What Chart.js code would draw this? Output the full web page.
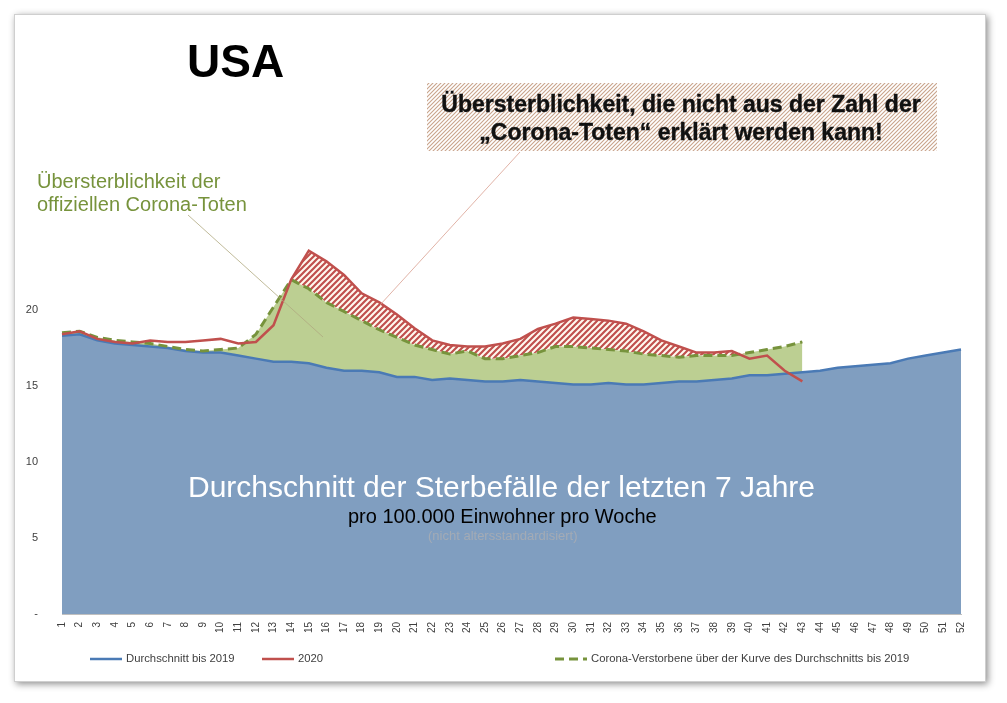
<!DOCTYPE html>
<html>
<head>
<meta charset="utf-8">
<script src="https://cdn.jsdelivr.net/npm/chart.js@4.4.1/dist/chart.umd.min.js"></script>
<style>
  body { margin: 0; background: #fff; }
  #frame { position: absolute; left: 14px; top: 14px; width: 970px; height: 666px; border: 1px solid #cfcfcf; background: #fff; box-shadow: 2px 2px 7px rgba(0,0,0,0.45); }
  #myChart { position: absolute; left: 0; top: 0; }
</style>
</head>
<body>
<div id="frame"></div>
<canvas id="myChart" width="1007" height="703"></canvas>
<script>
const weeks = ['1','2','3','4','5','6','7','8','9','10','11','12','13','14','15','16','17','18','19','20',
  '21','22','23','24','25','26','27','28','29','30','31','32','33','34','35','36','37','38','39','40',
  '41','42','43','44','45','46','47','48','49','50','51','52'];

// Durchschnitt bis 2019 (Sterbefälle pro 100.000 Einwohner pro Woche)
const avg2019 = [18.3, 18.4, 18.0, 17.8, 17.7, 17.6, 17.5, 17.3, 17.2, 17.2,
  17.0, 16.8, 16.6, 16.6, 16.5, 16.2, 16.0, 16.0, 15.9, 15.6,
  15.6, 15.4, 15.5, 15.4, 15.3, 15.3, 15.4, 15.3, 15.2, 15.1,
  15.1, 15.2, 15.1, 15.1, 15.2, 15.3, 15.3, 15.4, 15.5, 15.7,
  15.7, 15.8, 15.9, 16.0, 16.2, 16.3, 16.4, 16.5, 16.8, 17.0,
  17.2, 17.4];

// 2020
const deaths2020 = [18.4, 18.6, 18.1, 17.9, 17.8, 18.0, 17.9, 17.9, 18.0, 18.1,
  17.8, 17.9, 19.0, 22.0, 23.9, 23.2, 22.3, 21.1, 20.5, 19.7,
  18.8, 18.0, 17.7, 17.6, 17.6, 17.8, 18.1, 18.75, 19.1, 19.5,
  19.4, 19.3, 19.1, 18.6, 18.0, 17.6, 17.2, 17.2, 17.3, 16.8,
  17.0, 16.0, 15.3];

// Corona-Verstorbene über der Kurve des Durchschnitts bis 2019
const coronaAbove = [18.5, 18.6, 18.2, 18.0, 17.9, 17.8, 17.6, 17.4, 17.3, 17.4,
  17.5, 18.4, 20.2, 22.0, 21.4, 20.5, 19.9, 19.3, 18.7, 18.2,
  17.7, 17.4, 17.1, 17.3, 16.8, 16.8, 17.0, 17.2, 17.6, 17.6,
  17.5, 17.4, 17.3, 17.1, 17.0, 16.9, 17.0, 17.0, 17.0, 17.2,
  17.4, 17.6, 17.9];

const yTicks = [0, 5, 10, 15, 20];

const canvas = document.getElementById('myChart');
const g = canvas.getContext('2d');

function stripes(size, bg, fg, w) {
  const c = document.createElement('canvas');
  c.width = size; c.height = size;
  const t = c.getContext('2d');
  t.fillStyle = bg; t.fillRect(0, 0, size, size);
  t.strokeStyle = fg; t.lineWidth = w;
  t.beginPath();
  t.moveTo(-1, size + 1); t.lineTo(size + 1, -1);
  t.moveTo(-1, 1); t.lineTo(1, -1);
  t.moveTo(size - 1, size + 1); t.lineTo(size + 1, size - 1);
  t.stroke();
  return g.createPattern(c, 'repeat');
}

const redHatch = stripes(6, '#fffaf0', '#c0504d', 2.2);
const boxHatch = stripes(4, '#ffffff', '#c9a48c', 1.1);

// only the part of 2020 that lies above the corona curve (weeks 14-40) is hatched
const hatchTop = deaths2020.map((v, i) => (i >= 13 && i <= 39) ? v : null);

const labelsPlugin = {
  id: 'labels',
  afterDraw(chart) {
    const c = chart.ctx;
    const ds = chart.data.datasets;
    c.save();

    c.fillStyle = '#000';
    c.font = 'bold 46px "Liberation Sans", Arial';
    c.fillText('USA', 187, 77);

    c.fillStyle = boxHatch;
    c.fillRect(427, 83, 510, 68);
    c.fillStyle = '#111';
    c.strokeStyle = '#111';
    c.lineWidth = 0.4;
    c.font = 'bold 23px "Liberation Sans", Arial';
    c.textAlign = 'center';
    c.fillText('Übersterblichkeit, die nicht aus der Zahl der', 681, 112);
    c.strokeText('Übersterblichkeit, die nicht aus der Zahl der', 681, 112);
    c.fillText('„Corona-Toten“ erklärt werden kann!', 681, 140);
    c.strokeText('„Corona-Toten“ erklärt werden kann!', 681, 140);
    c.textAlign = 'left';

    c.fillStyle = '#77933c';
    c.font = '20px "Liberation Sans", Arial';
    c.fillText('Übersterblichkeit der', 37, 188);
    c.fillText('offiziellen Corona-Toten', 37, 211);

    c.lineWidth = 0.8;
    c.strokeStyle = '#b0aa80';
    c.beginPath(); c.moveTo(188, 215); c.lineTo(323, 337); c.stroke();
    c.strokeStyle = '#d9a090';
    c.beginPath(); c.moveTo(520, 152); c.lineTo(380, 305); c.stroke();

    c.fillStyle = '#fff';
    c.font = '30px "Liberation Sans", Arial';
    c.fillText('Durchschnitt der Sterbefälle der letzten 7 Jahre', 188, 497);
    c.fillStyle = '#000';
    c.font = '20px "Liberation Sans", Arial';
    c.fillText('pro 100.000 Einwohner pro Woche', 348, 523);
    c.fillStyle = '#a3abb5';
    c.font = '13px "Liberation Sans", Arial';
    c.fillText('(nicht altersstandardisiert)', 428, 540);

    // legend
    const items = [
      { d: ds[0], x: 90 },
      { d: ds[1], x: 262 },
      { d: ds[2], x: 555 }
    ];
    c.font = '11.3px "Liberation Sans", Arial';
    c.textBaseline = 'middle';
    items.forEach(it => {
      c.strokeStyle = it.d.borderColor;
      c.lineWidth = it.d.borderWidth;
      c.setLineDash(it.d.borderDash || []);
      c.beginPath(); c.moveTo(it.x, 659); c.lineTo(it.x + 32, 659); c.stroke();
      c.setLineDash([]);
      c.fillStyle = '#404040';
      c.fillText(it.d.label, it.x + 36, 659);
    });
    c.restore();
  }
};

new Chart(canvas, {
  type: 'line',
  data: {
    labels: weeks,
    datasets: [
      {
        label: 'Durchschnitt bis 2019',
        data: avg2019,
        borderColor: '#4a7ab5',
        borderWidth: 2.5,
        backgroundColor: '#809ec0',
        fill: 'origin',
        pointRadius: 0,
        order: 3
      },
      {
        label: '2020',
        data: deaths2020,
        borderColor: '#c0504d',
        borderWidth: 2.5,
        fill: false,
        pointRadius: 0,
        order: 0
      },
      {
        label: 'Corona-Verstorbene über der Kurve des Durchschnitts bis 2019',
        data: coronaAbove,
        borderColor: '#77933c',
        borderWidth: 3,
        borderDash: [9, 5],
        backgroundColor: '#bccf92',
        fill: { target: 0, above: '#bccf92', below: 'rgba(0,0,0,0)' },
        pointRadius: 0,
        order: 2
      },
      {
        label: 'hatch',
        data: hatchTop,
        borderColor: 'rgba(0,0,0,0)',
        borderWidth: 0,
        fill: { target: 2, above: redHatch, below: 'rgba(0,0,0,0)' },
        pointRadius: 0,
        order: 1
      }
    ]
  },
  options: {
    responsive: false,
    animation: false,
    layout: { padding: { top: 234, left: 22, right: 46, bottom: 59 } },
    plugins: {
      legend: { display: false },
      tooltip: { enabled: false },
      filler: { drawTime: 'beforeDatasetsDraw' }
    },
    scales: {
      x: {
        grid: { display: false, drawTicks: false },
        border: { display: true, color: '#bfbfbf', width: 1 },
        ticks: {
          autoSkip: false, minRotation: 90, maxRotation: 90, padding: 8,
          color: '#404040', font: { size: 10, family: '"Liberation Sans", Arial' }
        },
        afterFit: s => { s.height = 30; }
      },
      y: {
        min: 0, max: 25,
        grid: { display: false, drawTicks: false },
        border: { display: false },
        afterBuildTicks: s => { s.ticks = yTicks.map(v => ({ value: v })); },
        ticks: {
          padding: 24,
          color: '#404040', font: { size: 11, family: '"Liberation Sans", Arial' },
          callback: v => v === 0 ? '-' : v
        },
        afterFit: s => { s.width = 40; }
      }
    }
  },
  plugins: [labelsPlugin]
});
</script>
</body>
</html>
